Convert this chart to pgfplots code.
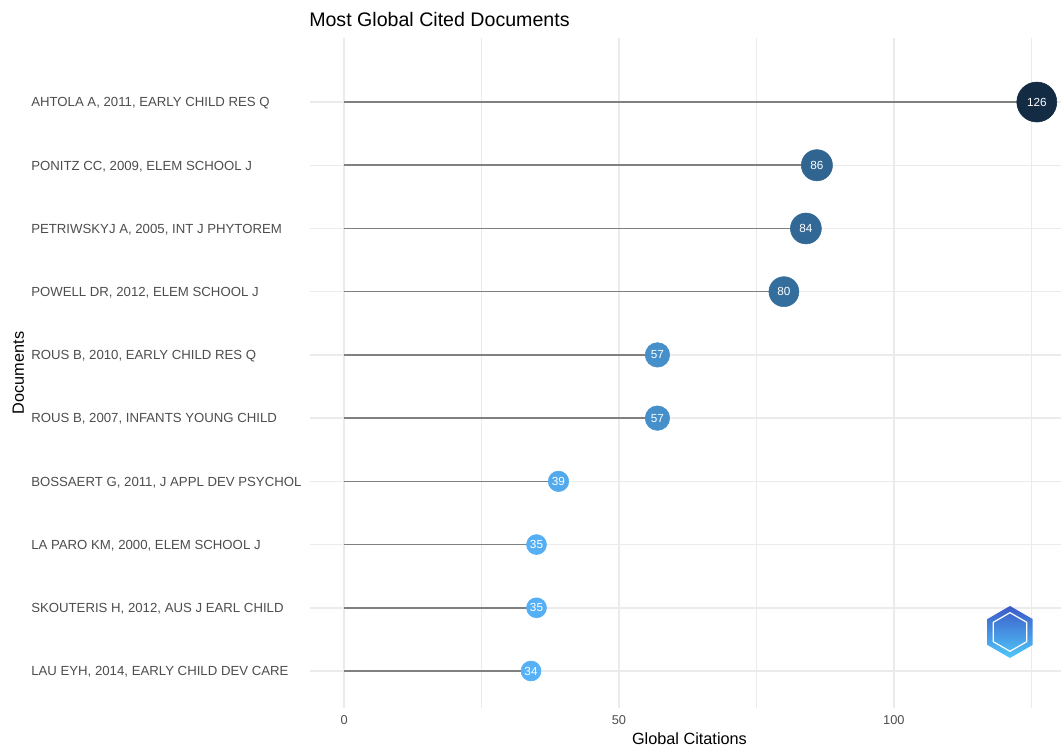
\documentclass[border=0pt]{standalone}
\usepackage{pgfplots}
\pgfplotsset{compat=1.18}
\usepackage{fontspec}
\setmainfont{Liberation Sans}
\usetikzlibrary{shapes.geometric}
\definecolor{gridc}{RGB}{235,235,235}
\definecolor{txt}{RGB}{77,77,77}
\definecolor{seg}{RGB}{128,128,128}
\definecolor{cA}{RGB}{19,43,67}
\definecolor{cB}{RGB}{48,101,145}
\definecolor{cC}{RGB}{50,104,149}
\definecolor{cD}{RGB}{52,110,157}
\definecolor{cE}{RGB}{69,143,202}
\definecolor{cF}{RGB}{82,170,237}
\definecolor{cG}{RGB}{85,175,245}
\definecolor{cH}{RGB}{86,177,247}

% one lollipop head: value, row, radius (pt), colour
\newcommand\lolli[4]{%
  \addplot[only marks, mark=*, mark size=#3, draw=#4, fill=#4,
    point meta=x, nodes near coords,
    every node near coord/.style={anchor=center, text=white, inner sep=0pt, font=\fontsize{8.8}{9}\selectfont}]
    coordinates {(#1,#2)};}

\begin{document}
\begin{tikzpicture}
\useasboundingbox (-232.5pt,-30pt) rectangle (563.25pt,531pt);
\begin{axis}[
  at={(0,0)}, anchor=south west,
  scale only axis,
  width=563.25pt, height=502.5pt,
  xmin=-6.2, xmax=130.4,
  ymin=0.415, ymax=11.013,
  clip=false,
  axis line style={draw=none},
  major tick length=0pt, minor tick length=0pt,
  tick style={draw=none},
  xtick={0,50,100},
  minor xtick={25,75,125},
  xmajorgrids, xminorgrids, ymajorgrids,
  major grid style={draw=gridc, line width=1.1pt},
  minor grid style={draw=gridc, line width=0.55pt},
  ytick={1,...,10},
  yticklabels={{LAU EYH, 2014, EARLY CHILD DEV CARE},
    {SKOUTERIS H, 2012, AUS J EARL CHILD},
    {LA PARO KM, 2000, ELEM SCHOOL J},
    {BOSSAERT G, 2011, J APPL DEV PSYCHOL},
    {ROUS B, 2007, INFANTS YOUNG CHILD},
    {ROUS B, 2010, EARLY CHILD RES Q},
    {POWELL DR, 2012, ELEM SCHOOL J},
    {PETRIWSKYJ A, 2005, INT J PHYTOREM},
    {PONITZ CC, 2009, ELEM SCHOOL J},
    {AHTOLA A, 2011, EARLY CHILD RES Q}},
  yticklabel style={anchor=base west, inner sep=0pt, xshift=-209.25pt, yshift=-3.6pt, font=\fontsize{9.9}{11}\selectfont, text=txt},
  xticklabel style={anchor=base, inner sep=0pt, yshift=-12.75pt, font=\fontsize{9.6}{11}\selectfont, text=txt},
  /pgf/number format/assume math mode=true,
]
\addplot[xcomb, draw=seg, line width=1.2pt, mark=none] coordinates {
  (126,10) (86,9) (84,8) (80,7) (57,6) (57,5) (39,4) (35,3) (35,2) (34,1)};
\lolli{126}{10}{15pt}{cA}
\lolli{86}{9}{11.7pt}{cB}
\lolli{84}{8}{11.6pt}{cC}
\lolli{80}{7}{11.25pt}{cD}
\lolli{57}{6}{9.2pt}{cE}
\lolli{57}{5}{9.2pt}{cE}
\lolli{39}{4}{7.7pt}{cF}
\lolli{35}{3}{7.5pt}{cG}
\lolli{35}{2}{7.5pt}{cG}
\lolli{34}{1}{7.5pt}{cH}
\end{axis}
% title and axis titles
\node[anchor=base west, inner sep=0pt, font=\fontsize{14.7}{16}\selectfont] at (-0.75pt,510.75pt) {Most Global Cited Documents};
\node[anchor=base, inner sep=0pt, font=\fontsize{12.2}{14}\selectfont] at (284.6pt,-27.75pt) {Global Citations};
\node[anchor=base, rotate=90, inner sep=0pt, font=\fontsize{12.2}{14}\selectfont] at (-214.5pt,251.25pt) {Documents};
% watermark logo
\node[regular polygon, regular polygon sides=6, shape border rotate=30, minimum size=39pt, inner sep=0pt,
  top color={rgb,255:red,60;green,90;blue,200}, bottom color={rgb,255:red,80;green,200;blue,250}, draw=none] at (525pt,57pt) {};
\node[regular polygon, regular polygon sides=6, shape border rotate=30, minimum size=29pt, inner sep=0pt, draw=white, line width=0.9pt] at (525pt,57pt) {};
\end{tikzpicture}
\end{document}
